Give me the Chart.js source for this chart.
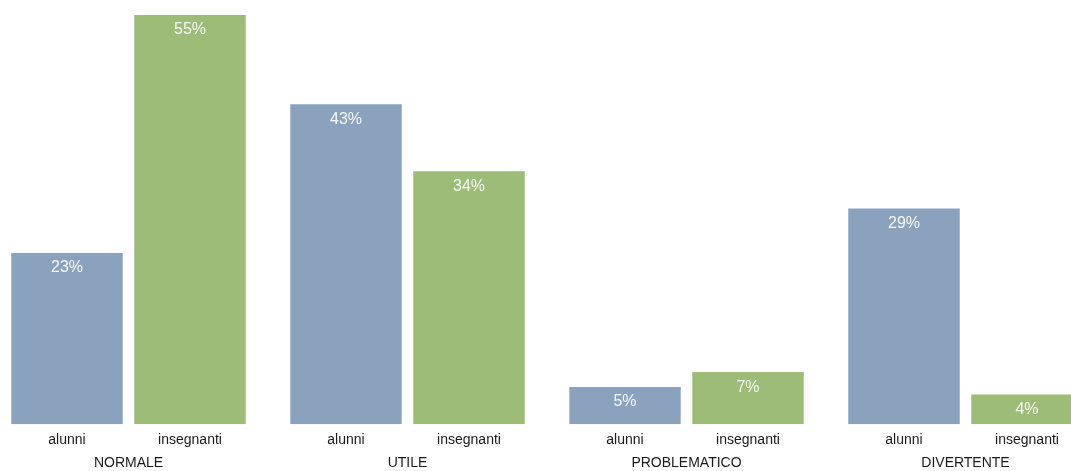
<!DOCTYPE html>
<html>
<head>
<meta charset="utf-8">
<script src="https://cdn.jsdelivr.net/npm/chart.js@4"></script>
<style>
  html, body { margin: 0; padding: 0; background: #ffffff; overflow: hidden; width: 1071px; height: 471px; }
  #c { position: absolute; left: -11.5px; top: 0; }
</style>
</head>
<body>
<canvas id="c" width="1116" height="503" style="width:1116px;height:503px;"></canvas>
<script>
const categories = ['NORMALE', 'UTILE', 'PROBLEMATICO', 'DIVERTENTE'];
const seriesNames = ['alunni', 'insegnanti'];
const alunni = [23, 43, 5, 29];
const insegnanti = [55, 34, 7, 4];

const FONT = '"Liberation Sans", Arial, sans-serif';

const labelPlugin = {
  id: 'labelPlugin',
  afterDatasetsDraw(chart) {
    const ctx = chart.ctx;
    const area = chart.chartArea;
    ctx.save();
    chart.data.datasets.forEach((ds, di) => {
      const meta = chart.getDatasetMeta(di);
      meta.data.forEach((bar, i) => {
        ctx.font = '16px ' + FONT;
        ctx.fillStyle = 'rgba(255,255,255,0.92)';
        ctx.textAlign = 'center';
        ctx.textBaseline = 'middle';
        ctx.fillText(ds.data[i] + '%', bar.x, bar.y + 15);
        ctx.font = '14px ' + FONT;
        ctx.fillStyle = '#1a1a1a';
        ctx.fillText(ds.label, bar.x, area.bottom + 16);
      });
    });
    ctx.restore();
  }
};

new Chart(document.getElementById('c'), {
  type: 'bar',
  data: {
    labels: categories,
    datasets: [
      { label: seriesNames[0], data: alunni, backgroundColor: '#8ba2bf' },
      { label: seriesNames[1], data: insegnanti, backgroundColor: '#9cbc78' }
    ]
  },
  options: {
    responsive: false,
    maintainAspectRatio: false,
    animation: false,
    events: [],
    layout: { padding: 0 },
    categoryPercentage: 0.8817,
    barPercentage: 0.906,
    plugins: { legend: { display: false }, tooltip: { enabled: false } },
    scales: {
      x: {
        grid: { display: false, drawTicks: false },
        border: { display: false },
        ticks: { color: '#1a1a1a', font: { family: FONT, size: 14 }, padding: 31 }
      },
      y: { display: false, min: 0, max: 57 }
    }
  },
  plugins: [labelPlugin]
});
</script>
</body>
</html>
